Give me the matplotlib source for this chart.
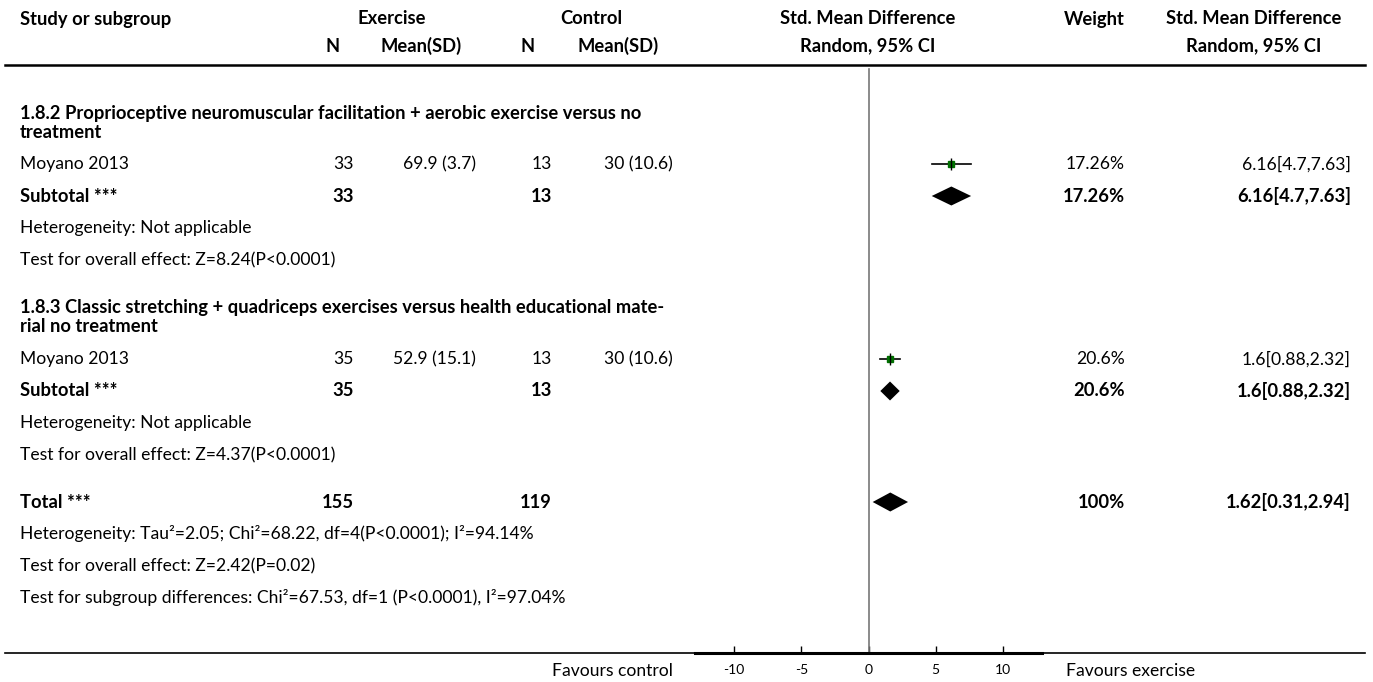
import matplotlib.pyplot as plt
import numpy as np

plt.rcParams['font.family'] = ['Lato', 'DejaVu Sans']

# study rows
study_names = ['Moyano 2013', 'Moyano 2013']
exp_n = [33, 35]
exp_mean_sd = ['69.9 (3.7)', '52.9 (15.1)']
ctl_n = [13, 13]
ctl_mean_sd = ['30 (10.6)', '30 (10.6)']
smd = [6.16, 1.6]
ci_lo = [4.7, 0.88]
ci_hi = [7.63, 2.32]
weights = ['17.26%', '20.6%']
ci_text = ['6.16[4.7,7.63]', '1.6[0.88,2.32]']

# subgroup rows
group_titles = [
    ['1.8.2 Proprioceptive neuromuscular facilitation + aerobic exercise versus no', 'treatment'],
    ['1.8.3 Classic stretching + quadriceps exercises versus health educational mate-', 'rial no treatment'],
]
sub_exp_n = [33, 35]
sub_ctl_n = [13, 13]
sub_smd = [6.16, 1.6]
sub_lo = [4.7, 0.88]
sub_hi = [7.63, 2.32]
sub_weights = ['17.26%', '20.6%']
sub_ci_text = ['6.16[4.7,7.63]', '1.6[0.88,2.32]']
sub_het = ['Heterogeneity: Not applicable', 'Heterogeneity: Not applicable']
sub_test = ['Test for overall effect: Z=8.24(P<0.0001)', 'Test for overall effect: Z=4.37(P<0.0001)']

# overall
tot_exp_n, tot_ctl_n = 155, 119
tot_smd, tot_lo, tot_hi = 1.62, 0.31, 2.94
tot_weight = '100%'
tot_ci_text = '1.62[0.31,2.94]'
tot_notes = [
    'Heterogeneity: Tau²=2.05; Chi²=68.22, df=4(P<0.0001); I²=94.14%',
    'Test for overall effect: Z=2.42(P=0.02)',
    'Test for subgroup differences: Chi²=67.53, df=1 (P<0.0001), I²=97.04%',
]
xticks = [-10, -5, 0, 5, 10]

W, H = 1373, 682
fig = plt.figure(figsize=(W / 100, H / 100), dpi=100)
ax = fig.add_axes([0, 0, 1, 1])
ax.set_xlim(0, W)
ax.set_ylim(H, 0)
ax.axis('off')

# forest panel: x in effect units, y in the same row units as the table
fx0, fx1 = 695, 1042
fy0, fy1 = 65, 653
fax = fig.add_axes([fx0 / W, 1 - fy1 / H, (fx1 - fx0) / W, (fy1 - fy0) / H])
fax.set_xlim(-12.9, 12.9)
fax.set_ylim(fy1, fy0)
fax.patch.set_alpha(0)
for s in ['top', 'left', 'right']:
    fax.spines[s].set_visible(False)
fax.spines['bottom'].set_linewidth(2.2)
fax.set_yticks([])
fax.set_xticks(xticks)
fax.set_xticklabels([str(t) for t in xticks])
fax.tick_params(axis='x', direction='in', length=5, width=1, labelsize=10, pad=8, colors='black')
fax.plot([0, 0], [fy0 + 4, fy1], color='#777777', lw=1.2)

fs = 12.6
fsb = 13.2
x_name = 20
x_en, x_em, x_cn, x_cm = 354, 476, 552, 673
x_w, x_ci = 1125, 1351


def row_text(y, name, en, em, cn, cm, w, ci, bold=False):
    kw = dict(fontsize=fsb if bold else fs, va='center', fontweight='bold' if bold else 'normal')
    ax.text(x_name, y, name, ha='left', **kw)
    ax.text(x_en, y, en, ha='right', **kw)
    ax.text(x_em, y, em, ha='right', **kw)
    ax.text(x_cn, y, cn, ha='right', **kw)
    ax.text(x_cm, y, cm, ha='right', **kw)
    ax.text(x_w, y, w, ha='right', **kw)
    ax.text(x_ci, y, ci, ha='right', **kw)


def diamond(y, lo, mid, hi, h=9.5):
    fax.fill([lo, mid, hi, mid], [y, y - h, y, y + h], color='black', lw=0)


# header
hb = dict(fontsize=fsb, fontweight='bold', va='center')
ax.text(x_name, 19, 'Study or subgroup', ha='left', **hb)
ax.text(392, 19, 'Exercise', ha='center', **hb)
ax.text(591, 19, 'Control', ha='center', **hb)
ax.text(868, 19, 'Std. Mean Difference', ha='center', **hb)
ax.text(1125, 19, 'Weight', ha='right', **hb)
ax.text(1254, 19, 'Std. Mean Difference', ha='center', **hb)
ax.text(340, 46, 'N', ha='right', **hb)
ax.text(462, 46, 'Mean(SD)', ha='right', **hb)
ax.text(535, 46, 'N', ha='right', **hb)
ax.text(659, 46, 'Mean(SD)', ha='right', **hb)
ax.text(868, 46, 'Random, 95% CI', ha='center', **hb)
ax.text(1254, 46, 'Random, 95% CI', ha='center', **hb)
ax.plot([5, 1365], [fy0, fy0], color='black', lw=1.8)

group_top = [113, 308]
for g in range(2):
    y0 = group_top[g]
    ax.text(x_name, y0, group_titles[g][0], ha='left', **hb)
    ax.text(x_name, y0 + 19, group_titles[g][1], ha='left', **hb)
    ys = y0 + 51
    row_text(ys, study_names[g], str(exp_n[g]), exp_mean_sd[g], str(ctl_n[g]),
             ctl_mean_sd[g], weights[g], ci_text[g])
    fax.plot([ci_lo[g], ci_hi[g]], [ys, ys], color='black', lw=1.2)
    fax.plot(smd[g], ys, marker='s', ms=4 + g, color='#007000', mec='#007000', ls='none')
    fax.plot(smd[g], ys, marker='|', ms=8, color='black', mew=1, ls='none')
    yt = ys + 32
    row_text(yt, 'Subtotal ***', str(sub_exp_n[g]), '', str(sub_ctl_n[g]), '',
             sub_weights[g], sub_ci_text[g], bold=True)
    diamond(yt, sub_lo[g], sub_smd[g], sub_hi[g])
    ax.text(x_name, yt + 32, sub_het[g], ha='left', va='center', fontsize=fs)
    ax.text(x_name, yt + 64, sub_test[g], ha='left', va='center', fontsize=fs)

y_tot = 502
row_text(y_tot, 'Total ***', str(tot_exp_n), '', str(tot_ctl_n), '', tot_weight, tot_ci_text, bold=True)
diamond(y_tot, tot_lo, tot_smd, tot_hi)
for i, note in enumerate(tot_notes):
    ax.text(x_name, y_tot + 32 + 32 * i, note, ha='left', va='center', fontsize=fs)

ax.plot([5, 1365], [fy1, fy1], color='black', lw=1.2)
ax.text(673, 671, 'Favours control', ha='right', va='center', fontsize=fs)
ax.text(1066, 671, 'Favours exercise', ha='left', va='center', fontsize=fs)

fig.savefig('out.png', dpi=100)
